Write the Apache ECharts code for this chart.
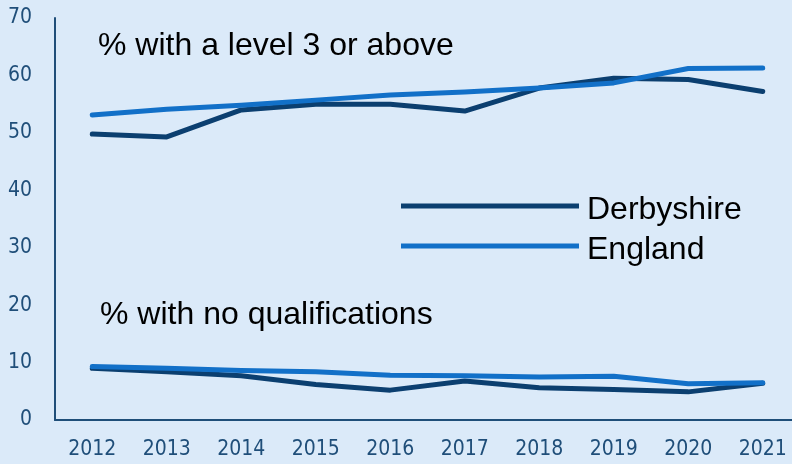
<!DOCTYPE html>
<html>
<head>
<meta charset="utf-8">
<script src="https://cdn.jsdelivr.net/npm/echarts@6/dist/echarts.min.js"></script>
<style>
  html, body { margin: 0; padding: 0; background: #dbeaf9; }
  #chart { width: 792px; height: 464px; }
</style>
</head>
<body>
<div id="chart"></div>
<script>
// Years on the horizontal axis
const years = ['2012', '2013', '2014', '2015', '2016', '2017', '2018', '2019', '2020', '2021'];

// % of working-age residents with a level 3 qualification or above
const derbyshireLevel3 = [49.8, 49.3, 54.0, 55.0, 55.0, 53.8, 57.8, 59.5, 59.3, 57.2];
const englandLevel3    = [53.1, 54.1, 54.8, 55.7, 56.6, 57.1, 57.8, 58.7, 61.2, 61.3];

// % of working-age residents with no qualifications
const derbyshireNoQual = [9.0, 8.4, 7.7, 6.2, 5.2, 6.8, 5.6, 5.3, 4.9, 6.4];
const englandNoQual    = [9.3, 9.0, 8.6, 8.4, 7.8, 7.7, 7.5, 7.6, 6.3, 6.5];

const seriesNames = ['Derbyshire', 'England'];
const annotations = ['% with a level 3 or above', '% with no qualifications'];

const dark = '#0b3f70';
const light = '#1270c8';
const axisColor = '#1f4e79';
const labelFont = '"DejaVu Sans Condensed", "Liberation Sans Narrow", sans-serif';
const textFont = '"Liberation Sans", Arial, sans-serif';

const chart = echarts.init(document.getElementById('chart'), null, { renderer: 'canvas' });

function lineSeries(name, data, color) {
  return {
    name: name,
    type: 'line',
    data: data,
    symbol: 'none',
    lineStyle: { color: color, width: 5, cap: 'round', join: 'round' },
    itemStyle: { color: color },
    z: name === seriesNames[1] ? 3 : 2
  };
}

chart.setOption({
  backgroundColor: '#dbeaf9',
  animation: false,
  grid: { left: 55, top: 18, bottom: 44, right: -8, containLabel: false, outerBoundsMode: 'none' },
  xAxis: {
    type: 'category',
    data: years,
    boundaryGap: true,
    axisLine: { lineStyle: { color: axisColor, width: 2 } },
    axisTick: { show: false },
    axisLabel: { color: axisColor, fontSize: 21, fontFamily: labelFont, margin: 19 }
  },
  yAxis: {
    type: 'value',
    min: 0,
    max: 70,
    interval: 10,
    axisLine: { show: true, lineStyle: { color: axisColor, width: 2 } },
    axisTick: { show: false },
    splitLine: { show: false },
    axisLabel: { color: axisColor, fontSize: 21, fontFamily: labelFont, margin: 23 }
  },
  legend: {
    data: seriesNames,
    orient: 'vertical',
    left: 396,
    top: 181,
    icon: 'rect',
    itemWidth: 178,
    itemHeight: 5,
    itemGap: 0,
    formatter: '{t|{name}}',
    textStyle: {
      color: '#000',
      fontSize: 32,
      fontFamily: textFont,
      rich: {
        t: { color: '#000', fontSize: 32, fontFamily: textFont, lineHeight: 30, padding: [8, 0, 0, 3] }
      }
    }
  },
  graphic: [
    {
      type: 'text',
      left: 98,
      top: 30,
      style: { text: annotations[0], fill: '#000', font: '32px ' + textFont }
    },
    {
      type: 'text',
      left: 100,
      top: 299,
      style: { text: annotations[1], fill: '#000', font: '32px ' + textFont }
    }
  ],
  series: [
    lineSeries(seriesNames[0], derbyshireLevel3, dark),
    lineSeries(seriesNames[1], englandLevel3, light),
    lineSeries(seriesNames[0], derbyshireNoQual, dark),
    lineSeries(seriesNames[1], englandNoQual, light)
  ]
});
</script>
</body>
</html>
